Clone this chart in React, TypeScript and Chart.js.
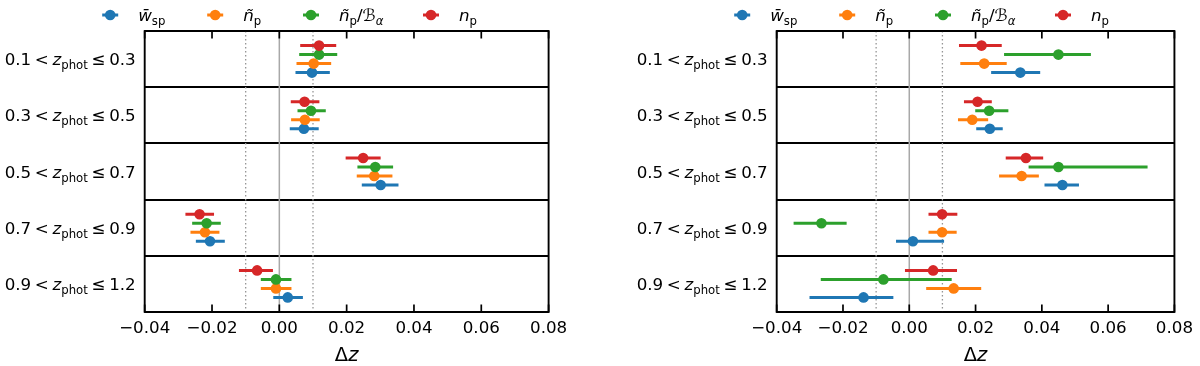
import React, { useEffect, useRef } from "react";
import { Chart, registerables } from "chart.js";
Chart.register(...registerables);

const FONT = '"DejaVu Sans", "Liberation Sans", sans-serif';
const COLORS = ["#1f77b4", "#ff7f0e", "#2ca02c", "#d62728"];

// redshift bins (rows)
const binLo = ["0.1", "0.3", "0.5", "0.7", "0.9"];
const binHi = ["0.3", "0.5", "0.7", "0.9", "1.2"];

// x axis
const X_MIN = -0.04;
const X_MAX = 0.08;
const X_STEP = 0.02;

// ---- left panel ----
const L_wsp = [0.0097, 0.0073, 0.0301, -0.0206, 0.0025];
const L_wspLo = [0.0048, 0.0031, 0.0245, -0.0248, -0.0018];
const L_wspHi = [0.015, 0.0117, 0.0354, -0.0162, 0.007];
const L_np = [0.0102, 0.0076, 0.0282, -0.0221, -0.001];
const L_npLo = [0.0051, 0.0035, 0.023, -0.0264, -0.0055];
const L_npHi = [0.0154, 0.012, 0.0336, -0.0178, 0.0036];
const L_npB = [0.0118, 0.0094, 0.0285, -0.0216, -0.001];
const L_npBLo = [0.0059, 0.0054, 0.0232, -0.0259, -0.0055];
const L_npBHi = [0.0172, 0.0138, 0.0338, -0.0174, 0.0036];
const L_nraw = [0.0118, 0.0075, 0.0249, -0.0237, -0.0066];
const L_nrawLo = [0.0062, 0.0034, 0.0197, -0.0279, -0.012];
const L_nrawHi = [0.0169, 0.0119, 0.0301, -0.0194, -0.0019];

// ---- right panel ----
const R_wsp = [0.0335, 0.0243, 0.0462, 0.0011, -0.0138];
const R_wspLo = [0.0247, 0.0202, 0.0408, -0.004, -0.0301];
const R_wspHi = [0.0395, 0.0282, 0.0512, 0.0105, -0.0048];
const R_np = [0.0226, 0.019, 0.0339, 0.0099, 0.0134];
const R_npLo = [0.0154, 0.0147, 0.0271, 0.0058, 0.0051];
const R_npHi = [0.0294, 0.0238, 0.0391, 0.0143, 0.0217];
const R_npB = [0.045, 0.0241, 0.045, -0.0265, -0.0078];
const R_npBLo = [0.0286, 0.0199, 0.036, -0.0349, -0.0267];
const R_npBHi = [0.0548, 0.0299, 0.0719, -0.0189, 0.0128];
const R_nraw = [0.0218, 0.0206, 0.0352, 0.0099, 0.0072];
const R_nrawLo = [0.015, 0.0165, 0.0291, 0.0058, -0.0013];
const R_nrawHi = [0.0279, 0.0249, 0.0404, 0.0145, 0.0144];

type Seg = { t: string; it?: boolean; sub?: boolean; gap?: number };

const legendLabels: Seg[][] = [
  [{ t: "w\u0304", it: true }, { t: "sp", sub: true }],
  [{ t: "ñ", it: true }, { t: "p", sub: true }],
  [{ t: "ñ", it: true }, { t: "p", sub: true }, { t: "/" }, { t: "ℬ", it: true }, { t: "α", it: true, sub: true }],
  [{ t: "n", it: true }, { t: "p", sub: true }],
];
const legendOffsets = [-34.5, 70.5, 166.3, 286.3];
const rowOffsets = [0.24, 0.08, -0.08, -0.24]; // blue, orange, green, red

const FS = 16.7;

function segFont(s: Seg, size: number) {
  const sz = s.sub ? size * 0.7 : size;
  return `${s.it ? "italic " : ""}${sz}px ${FONT}`;
}

function drawRich(ctx: CanvasRenderingContext2D, segs: Seg[], x: number, yMid: number, size: number, align: "left" | "right" | "center") {
  ctx.save();
  ctx.textBaseline = "alphabetic";
  ctx.textAlign = "left";
  ctx.fillStyle = "#000";
  let w = 0;
  const ws = segs.map((s) => {
    ctx.font = segFont(s, size);
    const m = ctx.measureText(s.t).width + (s.gap || 0) * size;
    w += m;
    return m;
  });
  let cx = align === "right" ? x - w : align === "center" ? x - w / 2 : x;
  const base = yMid + size * 0.36;
  segs.forEach((s, i) => {
    ctx.font = segFont(s, size);
    if (s.t) ctx.fillText(s.t, cx, s.sub ? base + size * 0.24 : base);
    cx += ws[i];
  });
  ctx.restore();
}

function rowLabel(i: number): Seg[] {
  return [
    { t: binLo[i] },
    { t: "", gap: 0.22 },
    { t: "<" },
    { t: "", gap: 0.22 },
    { t: "z", it: true },
    { t: "phot", sub: true },
    { t: "", gap: 0.22 },
    { t: "≤" },
    { t: "", gap: 0.22 },
    { t: binHi[i] },
  ];
}

const panelPlugin = {
  id: "panelDecor",
  beforeDatasetsDraw(chart: any) {
    const { ctx, chartArea: a, scales } = chart;
    const x = scales.x;
    ctx.save();
    ctx.beginPath();
    ctx.rect(a.left, a.top, a.right - a.left, a.bottom - a.top);
    ctx.clip();
    // zero line
    ctx.strokeStyle = "#a8a8a8";
    ctx.lineWidth = 1.5;
    ctx.beginPath();
    const x0 = x.getPixelForValue(0);
    ctx.moveTo(x0, a.top);
    ctx.lineTo(x0, a.bottom);
    ctx.stroke();
    // dotted ±0.01
    ctx.strokeStyle = "#959595";
    ctx.lineWidth = 1.3;
    ctx.setLineDash([1.5, 2.5]);
    [-0.01, 0.01].forEach((v) => {
      const px = x.getPixelForValue(v);
      ctx.beginPath();
      ctx.moveTo(px, a.top);
      ctx.lineTo(px, a.bottom);
      ctx.stroke();
    });
    ctx.setLineDash([]);
    // error bars
    ctx.lineWidth = 3;
    ctx.lineCap = "butt";
    chart.data.datasets.forEach((ds: any, di: number) => {
      const meta = chart.getDatasetMeta(di);
      ctx.strokeStyle = ds.backgroundColor;
      meta.data.forEach((pt: any, i: number) => {
        ctx.beginPath();
        ctx.moveTo(x.getPixelForValue(ds.errLo[i]), pt.y);
        ctx.lineTo(x.getPixelForValue(ds.errHi[i]), pt.y);
        ctx.stroke();
      });
    });
    ctx.restore();
  },
  afterDraw(chart: any) {
    const { ctx, chartArea: a, scales } = chart;
    const x = scales.x;
    const y = scales.y;
    ctx.save();
    // frame
    ctx.strokeStyle = "#000";
    ctx.lineWidth = 1.9;
    ctx.strokeRect(a.left, a.top, a.right - a.left, a.bottom - a.top);
    // inward ticks top/bottom
    ctx.lineWidth = 1.7;
    x.ticks.forEach((t: any) => {
      const px = x.getPixelForValue(t.value);
      ctx.beginPath();
      ctx.moveTo(px, a.bottom);
      ctx.lineTo(px, a.bottom - 7.5);
      ctx.moveTo(px, a.top);
      ctx.lineTo(px, a.top + 7.5);
      ctx.stroke();
    });
    ctx.restore();
    // row labels
    binLo.forEach((_, i) => {
      drawRich(ctx, rowLabel(i), a.left - 9, y.getPixelForValue(i + 0.5), FS, "right");
    });
    // x title
    drawRich(ctx, [{ t: "Δ" }, { t: "z", it: true }], (a.left + a.right) / 2, 354, 19.5, "center");
    // legend
    legendLabels.forEach((lab, k) => {
      const cx = a.left + legendOffsets[k];
      const cy = 15;
      ctx.save();
      ctx.strokeStyle = COLORS[k];
      ctx.fillStyle = COLORS[k];
      ctx.lineWidth = 3;
      ctx.beginPath();
      ctx.moveTo(cx - 8, cy);
      ctx.lineTo(cx + 8, cy);
      ctx.stroke();
      ctx.beginPath();
      ctx.arc(cx, cy, 5.3, 0, Math.PI * 2);
      ctx.fill();
      ctx.restore();
      drawRich(ctx, lab, cx + 28, cy, FS, "left");
    });
  },
};

type PanelData = { vals: number[][]; lo: number[][]; hi: number[][] };

function Panel({ data, padLeft, padRight, left }: { data: PanelData; padLeft: number; padRight: number; left: number }) {
  const ref = useRef<HTMLCanvasElement | null>(null);
  useEffect(() => {
    if (!ref.current) return;
    const datasets = [0, 1, 2, 3].map((k) => ({
      label: "s" + k,
      data: data.vals[k].map((v, i) => ({ x: v, y: i + 0.5 + rowOffsets[k] })),
      errLo: data.lo[k],
      errHi: data.hi[k],
      backgroundColor: COLORS[k],
      borderColor: COLORS[k],
      pointRadius: 5.3,
      pointBorderWidth: 0,
      pointHoverRadius: 5.3,
      showLine: false,
      order: 3 - k,
    }));
    const chart = new Chart(ref.current, {
      type: "scatter",
      data: { datasets } as any,
      options: {
        animation: false,
        responsive: false,
        events: [],
        layout: { padding: { left: padLeft, right: padRight, top: 31, bottom: 0 } },
        plugins: { legend: { display: false }, tooltip: { enabled: false } },
        scales: {
          x: {
            type: "linear",
            min: X_MIN,
            max: X_MAX,
            border: { display: false },
            grid: { display: false, drawTicks: false },
            ticks: {
              stepSize: X_STEP,
              autoSkip: false,
              maxRotation: 0,
              padding: 7,
              color: "#000",
              font: { family: FONT, size: FS },
              callback: (v: any) => {
                const n = Number(v);
                return (n < -1e-9 ? "\u2212" : "") + Math.abs(n).toFixed(2);
              },
            },
            afterFit: (s: any) => {
              s.height = 54;
            },
          },
          y: {
            type: "linear",
            min: 0,
            max: 5,
            reverse: true,
            border: { display: false },
            grid: { color: "#000", lineWidth: 1.9, drawTicks: false },
            ticks: { display: false, stepSize: 1 },
            afterFit: (s: any) => {
              s.width = 0;
            },
          },
        },
      } as any,
      plugins: [panelPlugin],
    });
    return () => chart.destroy();
  }, []);
  return <canvas ref={ref} width={600} height={366} style={{ position: "absolute", left, top: 0, width: 600, height: 366 }} />;
}

const leftData: PanelData = {
  vals: [L_wsp, L_np, L_npB, L_nraw],
  lo: [L_wspLo, L_npLo, L_npBLo, L_nrawLo],
  hi: [L_wspHi, L_npHi, L_npBHi, L_nrawHi],
};
const rightData: PanelData = {
  vals: [R_wsp, R_np, R_npB, R_nraw],
  lo: [R_wspLo, R_npLo, R_npBLo, R_nrawLo],
  hi: [R_wspHi, R_npHi, R_npBHi, R_nrawHi],
};

export default function App() {
  return (
    <div style={{ position: "fixed", left: 0, top: 0, width: 1200, height: 366, background: "#fff", overflow: "hidden" }}>
      <Panel data={leftData} padLeft={144.7} padRight={51.4} left={0} />
      <Panel data={rightData} padLeft={176.7} padRight={22} left={600} />
    </div>
  );
}
